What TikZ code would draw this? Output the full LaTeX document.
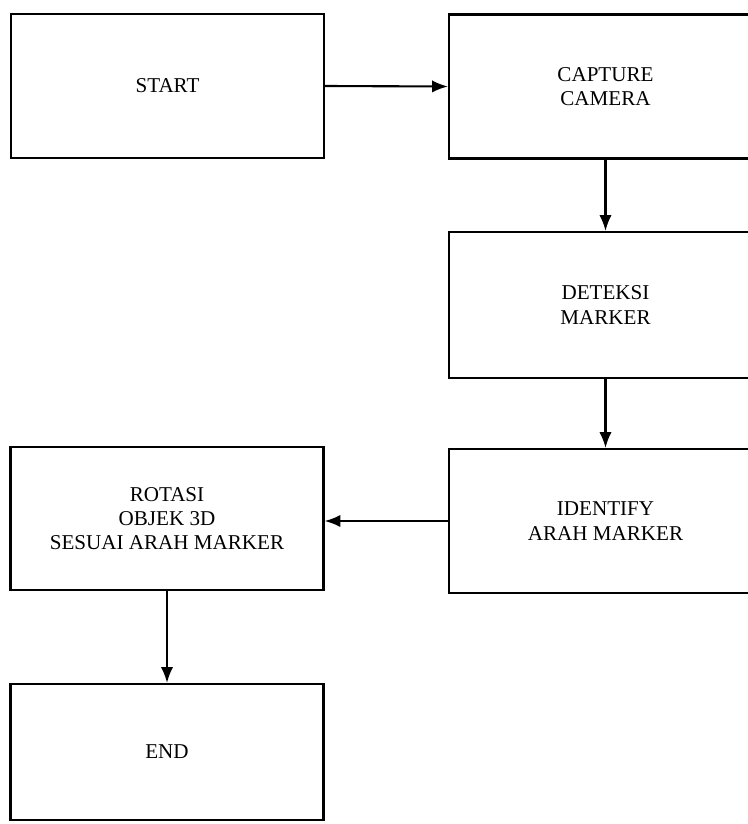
\documentclass[tikz,border=0pt]{standalone}
\usepackage{fontspec}
\setmainfont{Liberation Serif}
\usetikzlibrary{arrows.meta}

\begin{document}
\begin{tikzpicture}[>={Latex[length=9pt,width=7pt]}, line width=1.2pt,
  blok/.style={draw, rectangle, minimum width=6.26cm, minimum height=2.88cm, align=center, font=\fontsize{12}{13.8}\selectfont}]
\useasboundingbox (0,0) rectangle (14.96,-16.48);
\clip (0,0) rectangle (14.96,-16.48);
% Kotak proses
\node[blok] (start) at (3.35,-1.72) {START};
\node[blok] (capture) at (12.11,-1.73) {CAPTURE\\CAMERA};
\node[blok, minimum height=2.92cm] (deteksi) at (12.11,-6.10) {DETEKSI\\MARKER};
\node[blok] (identify) at (12.11,-10.42) {IDENTIFY\\ARAH MARKER};
\node[blok, minimum height=2.86cm] (rotasi) at (3.34,-10.37) {ROTASI\\OBJEK 3D\\SESUAI ARAH MARKER};
\node[blok, minimum height=2.72cm] (end) at (3.34,-15.04) {END};
% Panah
\draw[->] (start.east) -- (capture.west);
\draw[->] (capture.south) -- (deteksi.north);
\draw[->] (deteksi.south) -- (identify.north);
\draw[->] (identify.west) -- (identify.west -| rotasi.east);
\draw[->] (rotasi.south) -- (end.north);
\end{tikzpicture}
\end{document}
